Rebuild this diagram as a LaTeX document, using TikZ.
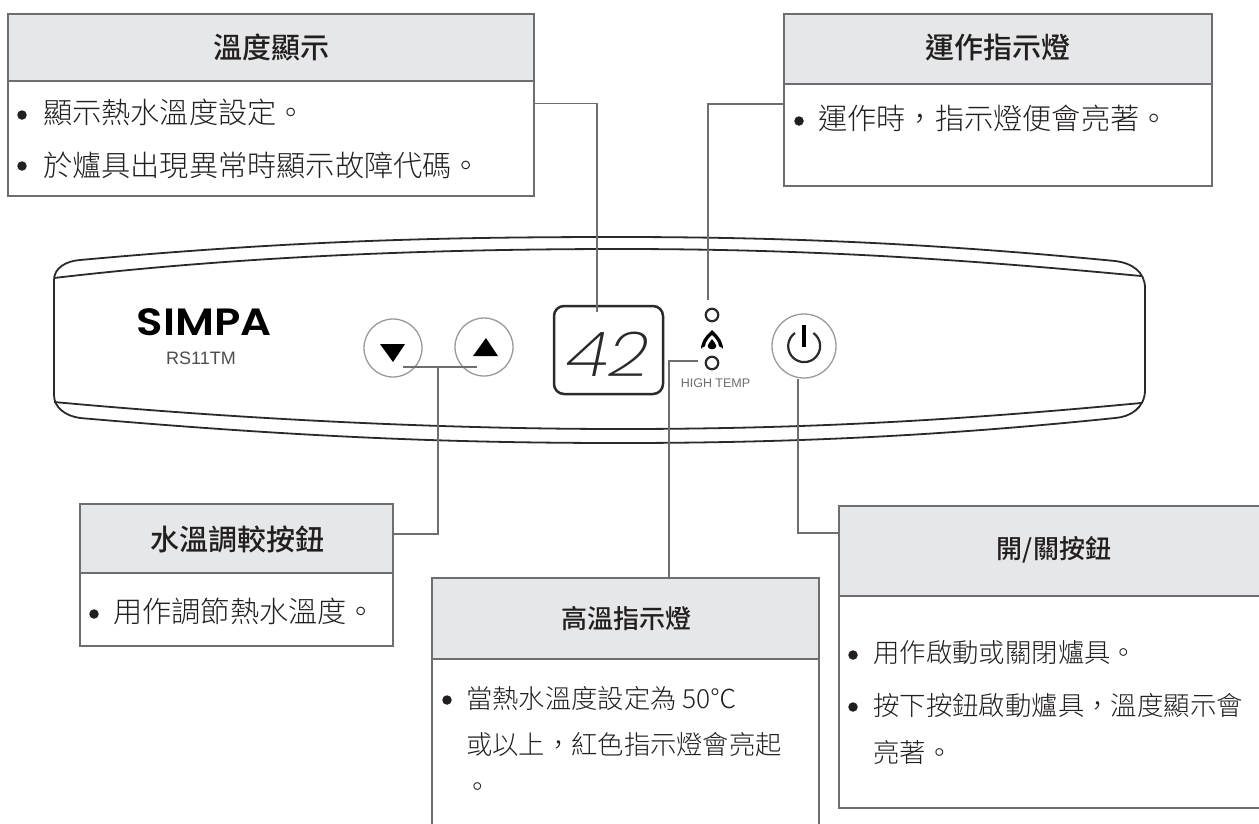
\documentclass[tikz,border=0pt]{standalone}
\usepackage{fontspec}
\newfontfamily\cjk{Noto Sans CJK TC Light}
\newfontfamily\cjkb{Noto Sans CJK TC Medium}
\newfontfamily\thinf{Poppins ExtraLight}
\newfontfamily\logof{Poppins SemiBold}
\newfontfamily\labf{Liberation Sans}
\definecolor{frame}{HTML}{6D6E71}
\definecolor{head}{HTML}{E6E7E8}
\definecolor{ink}{HTML}{231F20}
\definecolor{line}{HTML}{6E6E6E}
\definecolor{ring}{HTML}{9A9A9A}
\definecolor{pan}{HTML}{2A2A2A}
\tikzset{
  x=1pt,y=-1pt,
  hdr/.style={draw=frame,fill=head,line width=2pt,minimum width=#1,inner sep=0pt,outer sep=0pt},
  frameline/.style={draw=frame,line width=2pt},
  bodybox/.style={draw=frame,line width=2pt,inner sep=0pt,outer sep=0pt},
  ttl/.style={font=\fontsize{#1}{#1}\cjkb,text=ink,inner sep=0pt},
  txt/.style={font=\fontsize{#1}{#1}\cjk,text=ink,anchor=west,inner sep=0pt},
  bul/.style={circle,fill=ink,minimum size=9.5pt,inner sep=0pt},
  conn/.style={draw=line,line width=1.2pt},
  panelline/.style={draw=pan,line width=1.8pt},
  btn/.style={circle,draw=ring,line width=1.3pt,fill=none,inner sep=0pt,outer sep=0pt},
  led/.style={circle,draw=pan,line width=2.2pt,minimum size=12.5pt,inner sep=0pt,outer sep=0pt}
}
\begin{document}
\begin{tikzpicture}
\useasboundingbox[fill=white] (0,0) rectangle (1259,823);
% panel
\draw[panelline] (54,280) .. controls (54,268) and (66,261) .. (80,260) .. controls (300,240) and (450,237) .. (620,237) .. controls (800,237) and (950,245) .. (1115,261) .. controls (1132,263) and (1145,272) .. (1145,288) -- (1145,390) .. controls (1145,408) and (1130,417) .. (1115,418) .. controls (950,435) and (800,443) .. (620,443) .. controls (450,443) and (300,437) .. (80,418) .. controls (66,416) and (54,408) .. (54,395) -- cycle;
\draw[panelline] (54,278) .. controls (250,255) and (450,249) .. (620,249) .. controls (800,249) and (950,258) .. (1141,276);
\draw[panelline] (54,402) .. controls (250,420) and (450,429) .. (620,429) .. controls (800,429) and (950,421) .. (1141,403);
% logo
\node[font=\fontsize{38}{38}\logof,text=black,inner sep=0pt,xscale=1.14,transform shape] (logo) at (204,322) {SIMPA};
\node[font=\fontsize{18}{18}\labf,text=ink!80,inner sep=0pt] (model) at (201,358) {RS11TM};
% buttons
\node[btn,minimum size=58pt] (down) at (393,348) {};
\node[btn,minimum size=58pt] (up) at (484,347) {};
\fill[black] (380,344) -- (405,344) -- (393,362) -- cycle;
\fill[black] (473,356) -- (498,356) -- (486,338) -- cycle;
% display
\node[draw=pan,line width=2.5pt,rounded corners=10pt,minimum width=109pt,minimum height=88pt,inner sep=0pt,outer sep=0pt] (disp) at (608.5,350) {};
\node[font=\fontsize{62}{62}\thinf\itshape,text=pan,inner sep=0pt,xscale=1.15,transform shape] (num) at (608,354) {42};
% leds
\node[led] (led1) at (712,315) {};
\node[led] (led2) at (712,363) {};
\fill[black] (712,330) .. controls (716,334) and (723,340) .. (723,349) .. controls (721,344) and (703,344) .. (701,349) .. controls (701,340) and (708,334) .. (712,330) -- cycle;
\fill[white] (712,335) .. controls (715,338) and (719,342) .. (719,347) -- (705,347) .. controls (705,342) and (709,338) .. (712,335) -- cycle;
\fill[black] (712,339) .. controls (714,342) and (717,345) .. (716,347) .. controls (715,350) and (709,350) .. (708,347) .. controls (707,345) and (710,342) .. (712,339) -- cycle;
\node[font=\fontsize{12.5}{12.5}\labf,text=line,inner sep=0pt] (hot) at (715.5,383) {HIGH TEMP};
% power
\node[btn,minimum size=64pt] (pow) at (804,346) {};
\draw[pan,line width=2.2pt] (795,333) arc[start angle=235,end angle=-55,radius=16];
\draw[black,line width=3.5pt] (804,325) -- (804,347);
% box 1
\node[hdr=526pt,minimum height=67pt] (h1) at (271,47.5) {};
\node[bodybox,minimum width=526pt,minimum height=115pt] (b1) at (271,138.5) {};
\node[ttl=29] (t1) at (271,47) {溫度顯示};
\node[bul] (p11) at (22,115) {};
\node[txt=29.2] (x11) at (43,112) {顯示熱水溫度設定。};
\node[bul] (p12) at (22,166) {};
\node[txt=29.2] (x12) at (43,165) {於爐具出現異常時顯示故障代碼。};
% box 2
\node[hdr=428pt,minimum height=70pt] (h2) at (998,49) {};
\node[bodybox,minimum width=428pt,minimum height=102pt] (b2) at (998,135) {};
\node[ttl=29] (t2) at (998,48) {運作指示燈};
\node[bul] (p21) at (799,121) {};
\node[txt=29.2] (x21) at (818,118) {運作時，指示燈便會亮著。};
% box 3
\node[hdr=313pt,minimum height=69pt] (h3) at (236.5,538.5) {};
\node[bodybox,minimum width=313pt,minimum height=73pt] (b3) at (236.5,609.5) {};
\node[ttl=29] (t3) at (237,539) {水溫調較按鈕};
\node[bul] (p31) at (94,614) {};
\node[txt=29.2] (x31) at (113,611) {用作調節熱水溫度。};
% box 4
\node[hdr=387pt,minimum height=81pt] (h4) at (625.5,618.5) {};
\draw[frameline] (h4.south west) -- ++(0,165);
\draw[frameline] (h4.south east) -- ++(0,165);
\node[ttl=26] (t4) at (626,619) {高溫指示燈};
\node[bul] (p41) at (447,700) {};
\node[txt=26.3] (x41) at (466,698) {當熱水溫度設定為 50℃};
\node[txt=26.3] (x42) at (466,745) {或以上，紅色指示燈會亮起};
\node[txt=26.3] (x43) at (464,790) {。};
% box 5
\node[hdr=423pt,minimum height=90pt] (h5) at (1050.5,551) {};
\node[bodybox,minimum width=423pt,minimum height=212pt] (b5) at (1050.5,702) {};
\node[ttl=26] (t5) at (1054,550) {開/關按鈕};
\node[bul] (p51) at (853,655) {};
\node[txt=26.4] (x51) at (873,653) {用作啟動或關閉爐具。};
\node[bul] (p52) at (853,707) {};
\node[txt=26.4] (x52) at (873,705) {按下按鈕啟動爐具，溫度顯示會};
\node[txt=26.4] (x53) at (873,752) {亮著。};
% connector ends
\coordinate (e1) at (597,312);
\coordinate (e2) at (708,300);
\coordinate (e3a) at (403,367);
\coordinate (e3b) at (477,367);
\coordinate (j3) at (438,367);
\coordinate (e4) at (698,361);
\coordinate (e5) at (798,379);
\draw[conn] (b1.east |- 0,103.5) -| (e1);
\draw[conn] (b2.west |- 0,104) -| (e2);
\draw[conn] (e3a) -- (e3b);
\draw[conn] (j3) |- (h3.east |- 0,534);
\draw[conn] (e4) -| (h4.north -| 669,0);
\draw[conn] (e5) |- (h5.west |- 0,533);
\end{tikzpicture}
\end{document}
